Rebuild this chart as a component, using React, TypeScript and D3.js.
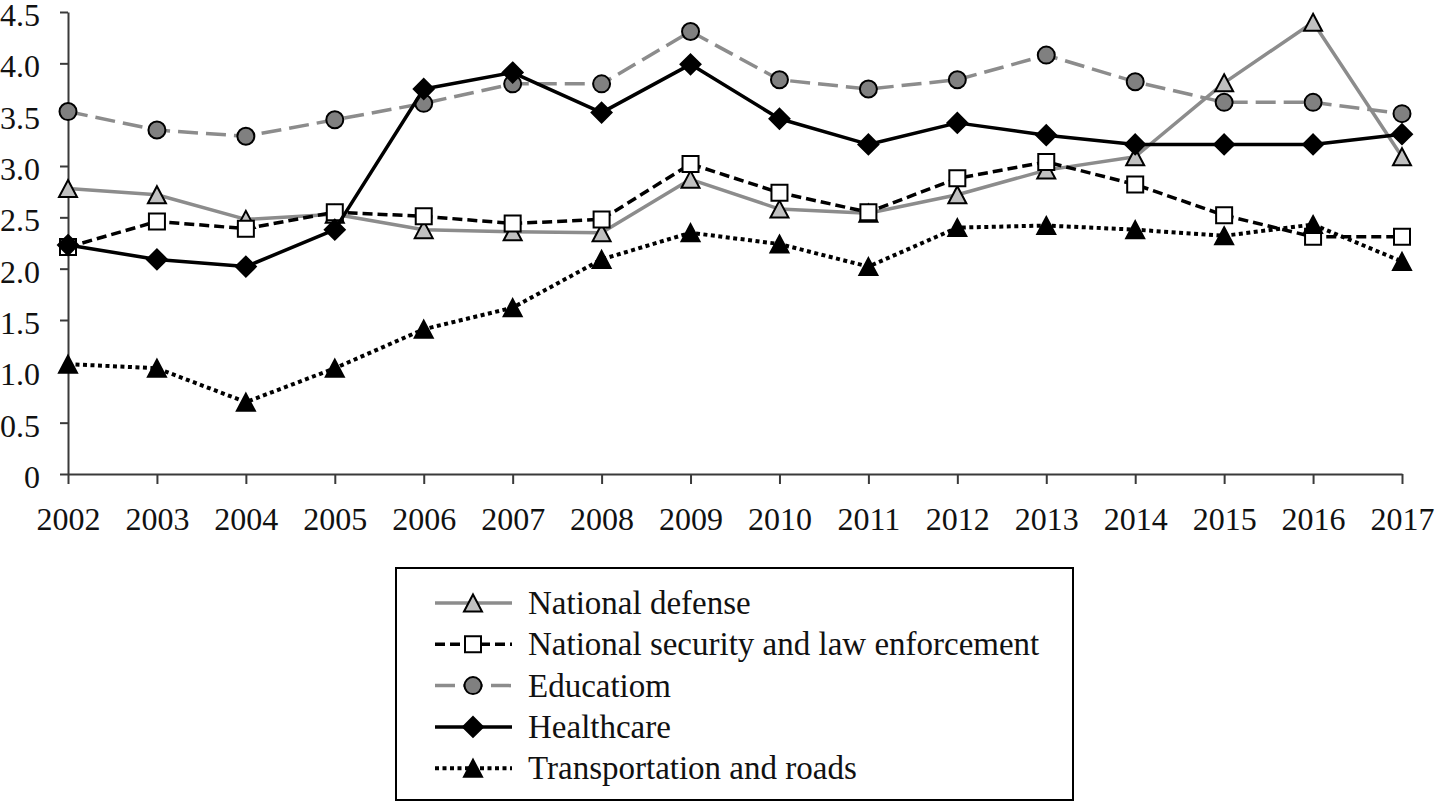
import React, { useEffect, useRef } from 'react';
import * as d3 from 'd3';

const years = ['2002', '2003', '2004', '2005', '2006', '2007', '2008', '2009', '2010', '2011', '2012', '2013', '2014', '2015', '2016', '2017'];
const yTicks = [0, 0.5, 1, 1.5, 2, 2.5, 3, 3.5, 4, 4.5];

const nationalDefense = [2.78, 2.72, 2.48, 2.53, 2.38, 2.36, 2.35, 2.87, 2.58, 2.54, 2.72, 2.96, 3.09, 3.81, 4.40, 3.09];
const nationalSecurity = [2.21, 2.46, 2.39, 2.55, 2.51, 2.44, 2.48, 3.02, 2.74, 2.55, 2.88, 3.04, 2.82, 2.52, 2.31, 2.31];
const education = [3.53, 3.35, 3.29, 3.45, 3.61, 3.80, 3.80, 4.31, 3.84, 3.75, 3.84, 4.08, 3.82, 3.62, 3.62, 3.51];
const healthcare = [2.23, 2.09, 2.02, 2.38, 3.75, 3.91, 3.52, 3.99, 3.46, 3.21, 3.42, 3.30, 3.21, 3.21, 3.21, 3.31];
const transportation = [1.07, 1.03, 0.70, 1.03, 1.41, 1.62, 2.09, 2.35, 2.24, 2.02, 2.40, 2.42, 2.38, 2.32, 2.43, 2.07];

const seriesNames = [
  'National defense',
  'National security and law enforcement',
  'Educatiom',
  'Healthcare',
  'Transportation and roads',
];

type Marker = 'triangle' | 'square' | 'circle' | 'diamond';

interface SeriesStyle {
  values: number[];
  line: string;
  dash: string | null;
  width: number;
  marker: Marker;
  fill: string;
}

const styles: SeriesStyle[] = [
  { values: nationalDefense, line: '#8c8c8c', dash: null, width: 3.5, marker: 'triangle', fill: '#c0c0c0' },
  { values: nationalSecurity, line: '#000', dash: '10,5', width: 3.5, marker: 'square', fill: '#fff' },
  { values: education, line: '#8c8c8c', dash: '20,8', width: 3.5, marker: 'circle', fill: '#808080' },
  { values: healthcare, line: '#000', dash: null, width: 3.5, marker: 'diamond', fill: '#000' },
  { values: transportation, line: '#000', dash: '4,3.5', width: 4, marker: 'triangle', fill: '#000' },
];

const FONT = '"Liberation Serif", "Times New Roman", serif';

// marker path centred on its bounding box
function markerPath(m: Marker): string {
  switch (m) {
    case 'triangle':
      return 'M0,-8.5L9,8.5L-9,8.5Z';
    case 'square':
      return 'M-8,-8H8V8H-8Z';
    case 'diamond':
      return 'M0,-10L10,0L0,10L-10,0Z';
    default:
      return '';
  }
}

function drawMarker(g: d3.Selection<SVGGElement, unknown, null, undefined>, s: SeriesStyle, x: number, y: number) {
  if (s.marker === 'circle') {
    g.append('circle')
      .attr('cx', x)
      .attr('cy', y)
      .attr('r', 8.5)
      .attr('fill', s.fill)
      .attr('stroke', '#000')
      .attr('stroke-width', 2);
  } else {
    g.append('path')
      .attr('d', markerPath(s.marker))
      .attr('transform', `translate(${x},${y})`)
      .attr('fill', s.fill)
      .attr('stroke', '#000')
      .attr('stroke-width', 2)
      .attr('stroke-linejoin', 'miter');
  }
}

const App: React.FC = () => {
  const svgRef = useRef<SVGSVGElement>(null);

  useEffect(() => {
    if (!svgRef.current) return;
    const svg = d3.select(svgRef.current);
    svg.selectAll('*').remove();

    const xScale = d3.scalePoint<string>().domain(years).range([68, 1402]);
    const yScale = d3.scaleLinear().domain([0, 4.5]).range([474, 12]);

    // Axes
    const yAxis = svg.append('g')
      .attr('transform', 'translate(68,0)')
      .call(
        d3.axisLeft(yScale)
          .tickValues(yTicks)
          .tickSize(8)
          .tickSizeOuter(0)
          .tickPadding(20)
          .tickFormat(d => (+d === 0 ? '0' : d3.format('.1f')(+d)))
      );
    yAxis.selectAll('text').attr('dy', '0.42em');

    const xAxis = svg.append('g')
      .attr('transform', 'translate(0,474)')
      .call(d3.axisBottom(xScale).tickSize(10).tickSizeOuter(0).tickPadding(23));

    [yAxis, xAxis].forEach(ax => {
      ax.attr('font-family', FONT).attr('font-size', 32);
      ax.selectAll('path, line').attr('stroke', '#3a3a3a').attr('stroke-width', 2);
      ax.selectAll('text').attr('fill', '#111');
    });

    // Series
    const plot = svg.append('g');
    styles.forEach(s => {
      const line = d3.line<number>()
        .x((_, i) => xScale(years[i]) as number)
        .y(d => yScale(d));

      plot.append('path')
        .datum(s.values)
        .attr('d', line)
        .attr('fill', 'none')
        .attr('stroke', s.line)
        .attr('stroke-width', s.width)
        .attr('stroke-linejoin', 'round')
        .attr('stroke-dasharray', s.dash);

      const mg = plot.append('g');
      s.values.forEach((v, i) => drawMarker(mg, s, xScale(years[i]) as number, yScale(v)));
    });

    // Legend
    const legend = svg.append('g');
    legend.append('rect')
      .attr('x', 396)
      .attr('y', 568)
      .attr('width', 677)
      .attr('height', 232)
      .attr('fill', '#fff')
      .attr('stroke', '#000')
      .attr('stroke-width', 2);

    styles.forEach((s, i) => {
      const cy = 603 + i * 41.3;
      const row = legend.append('g');
      row.append('line')
        .attr('x1', 435)
        .attr('x2', 512)
        .attr('y1', cy)
        .attr('y2', cy)
        .attr('stroke', s.line)
        .attr('stroke-width', s.width)
        .attr('stroke-dasharray', s.dash);
      drawMarker(row, s, 473, cy);
      row.append('text')
        .attr('x', 528)
        .attr('y', cy + 11)
        .attr('font-family', FONT)
        .attr('font-size', 33)
        .attr('fill', '#111')
        .text(seriesNames[i]);
    });
  }, []);

  return (
    <svg
      ref={svgRef}
      width={1440}
      height={804}
      style={{ position: 'absolute', left: 0, top: 0, background: '#fff' }}
    />
  );
};

export default App;
